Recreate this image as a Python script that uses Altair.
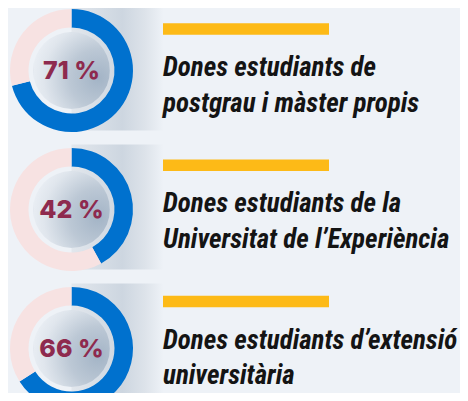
import altair as alt
import pandas as pd

# ---- data ----
items = ["postgrau", "experiencia", "extensio"]
pct = [71, 42, 66]
labels = [
    "Dones estudiants de\npostgrau i màster propis",
    "Dones estudiants de la\nUniversitat de l’Experiència",
    "Dones estudiants d’extensió\nuniversitària",
]

BLUE = "#0071CE"
PINK = "#F7E2E2"
BG = "#EEF2F7"
CRIMSON = "#8E2A4E"
YELLOW = "#FDBA17"

rows = []
for it, p in zip(items, pct):
    rows.append({"item": it, "part": "dones", "value": p, "ord": 0})
    rows.append({"item": it, "part": "resta", "value": 100 - p, "ord": 1})
arcs_df = pd.DataFrame(rows)
info_df = pd.DataFrame({"item": items, "pct": pct, "label": labels,
                        "pct_txt": [f"{p} %" for p in pct]})

CX = 63.5
donut_y = alt.Scale(type="point", domain=items, range=[62.5, 340.5], padding=0)
text_y = alt.Scale(type="point", domain=items, range=[68, 340.5], padding=0)

Yd = alt.Y("item:N", scale=donut_y, axis=None)
Yt = alt.Y("item:N", scale=text_y, axis=None)

shadow = alt.Chart(info_df).mark_rect(
    yOffset=-65, y2Offset=60,
    fill=alt.LinearGradient(
        gradient="linear", x1=0, x2=1, y1=0, y2=0,
        stops=[alt.GradientStop(offset=0, color="#E2E7ED"),
               alt.GradientStop(offset=0.55, color="#CDD6E0"),
               alt.GradientStop(offset=0.8, color="#DDE3EA"),
               alt.GradientStop(offset=1, color=BG)])
).encode(x=alt.value(CX), x2=alt.value(CX + 92), y=Yd, y2=alt.Y2("item:N"))

hole = alt.Chart(info_df).mark_circle(
    size=5900, opacity=1,
    fill=alt.RadialGradient(
        gradient="radial", x1=0.85, y1=0.6, r1=0, x2=0.85, y2=0.6, r2=0.95,
        stops=[alt.GradientStop(offset=0, color="#A3B4C6"),
               alt.GradientStop(offset=0.4, color="#BCC8D5"),
               alt.GradientStop(offset=0.75, color="#E0E6ED"),
               alt.GradientStop(offset=1, color="#EEF2F7")])
).encode(x=alt.value(CX), y=Yd)

donuts = alt.Chart(arcs_df).transform_window(
    end="sum(value)", groupby=["item"], sort=[alt.SortField("ord")], frame=[None, 0]
).transform_calculate(
    start="datum.end - datum.value"
).mark_arc(innerRadius=43, outerRadius=61.5).encode(
    x=alt.value(CX),
    y=Yd,
    theta=alt.Theta("start:Q", scale=alt.Scale(domain=[0, 100], range=[0, 6.283185307])),
    theta2="end:Q",
    color=alt.Color("part:N", scale=alt.Scale(domain=["dones", "resta"], range=[BLUE, PINK]), legend=None),
)

pct_text = alt.Chart(info_df).mark_text(
    font="Inter", fontWeight=800, fontSize=25, color=CRIMSON,
    align="center", baseline="middle", dy=0
).encode(x=alt.value(CX), y=Yd, text="pct_txt:N")

bars = alt.Chart(info_df).mark_rule(strokeWidth=11.5, color=YELLOW, yOffset=-47).encode(
    x=alt.value(155), x2=alt.value(321), y=Yt
)

label_text = alt.Chart(info_df).mark_text(
    font="'Liberation Sans Narrow', 'Roboto Condensed', Roboto, sans-serif",
    fontWeight="bold", fontStyle="italic", fontSize=27, color="#141414",
    align="left", baseline="alphabetic", lineBreak="\n", lineHeight=35.5
).encode(x=alt.value(155), y=Yt, text="label:N")

chart = alt.layer(shadow, hole, donuts, pct_text, bars, label_text).resolve_scale(
    y="independent"
).properties(
    width=452, height=385, padding=0,
    autosize=alt.AutoSizeParams(type="none"),
    background=BG,
).configure_view(stroke=None)

chart.save("out.html", embed_options={"renderer": "svg", "actions": False})
